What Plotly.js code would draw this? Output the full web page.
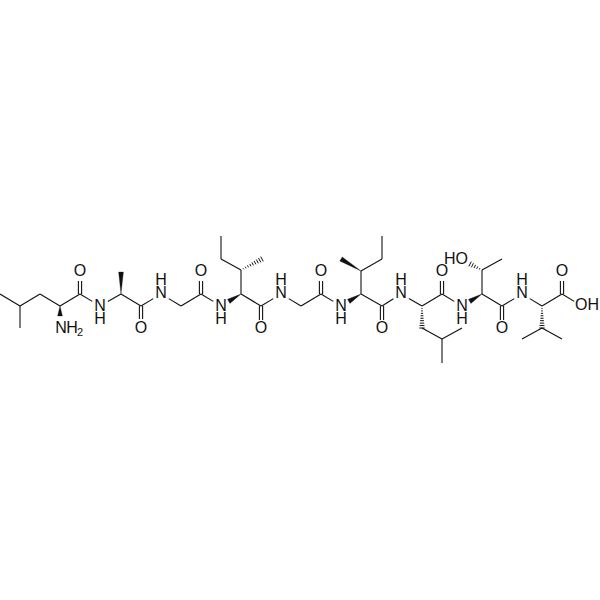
<!DOCTYPE html>
<html><head><meta charset="utf-8">
<script src="https://cdn.plot.ly/plotly-3.0.1.min.js"></script>
<style>html,body{margin:0;padding:0;background:#fff}#c{width:600px;height:600px}</style></head>
<body><div id="c"></div>
<script>
// Atom positions (pixel-like data units)
const atomX = {a1:0,a2:20,a3:20,a4:40,a5:60,n0:60,c1:80,o1:80,n1:100,b1:121,m1:121,c2:141,o2:141,n2:161,g1:181,c3:201,o3:201,
  n3:221,b2:241,s1:241,h1:262,e1:221,e2:221,c4:261,o4:261,n4:281,g2:301,c5:321,o5:321,n5:341,b3:361,s2:361,m3:341,e3:382,e4:382,
  c6:382,o6:382,n6:401,b4:422,l1:422,l2:442,l3:462,l4:442,c7:442,o7:442,n7:462,b5:482,s3:482,m5:502,oh:462,c8:502,o8:502,n8:522,
  b6:542,v1:542,v2:522,v3:562,c9:562,o9:562,oa:582};
const atomY = {a1:294,a2:306,a3:328,a4:294,a5:306,n0:325,c1:294,o1:272,n1:306,b1:294,m1:272,c2:306,o2:328,n2:294,g1:306,c3:294,o3:272,
  n3:306,b2:294,s1:270,h1:259,e1:259,e2:236,c4:306,o4:329,n4:294,g2:306,c5:294,o5:272,n5:306,b3:294,s2:271,m3:259,e3:259,e4:236,
  c6:306,o6:329,n6:294,b4:306,l1:328,l2:339,l3:328,l4:363,c7:294,o7:272,n7:306,b5:294,s3:270,m5:259,oh:260,c8:306,o8:329,n8:294,
  b6:306,v1:328,v2:339,v3:339,c9:294,o9:272,oa:306};
const singleBonds = [['a1','a2'],['a2','a3'],['a2','a4'],['a4','a5'],['a5','c1'],['c1','n1'],['n1','b1'],['b1','c2'],['c2','n2'],['n2','g1'],['g1','c3'],['c3','n3'],
  ['b2','s1'],['s1','e1'],['e1','e2'],['b2','c4'],['c4','n4'],['n4','g2'],['g2','c5'],['c5','n5'],['b3','s2'],['s2','e3'],['e3','e4'],['b3','c6'],['c6','n6'],
  ['n6','b4'],['l1','l2'],['l2','l3'],['l2','l4'],['b4','c7'],['c7','n7'],['b5','s3'],['s3','m5'],['b5','c8'],['c8','n8'],['n8','b6'],['b6','c9'],['c9','oa'],['v1','v2'],['v1','v3']];
const doubleBonds = [['c1','o1'],['c2','o2'],['c3','o3'],['c4','o4'],['c5','o5'],['c6','o6'],['c7','o7'],['c8','o8'],['c9','o9']];
const wedgeBonds = [['a5','n0'],['b1','m1'],['b2','n3'],['s2','m3'],['b3','n5'],['b5','n7']];
const hashBonds = [['s1','h1'],['b4','l1'],['s3','oh'],['b6','v1']];
const labelText = ['O','N','H','N','H','O','N','H','O','N','H','O','N','H','O','N','H','O','N','H','O','N','H','HO','O','N','H','O','OH'];
const labelX = [80,100,100,61,72,141,161,161,201,221,221,261,281,281,321,341,341,382,401,401,442,462,462,456,502,522,522,562,587];
const labelY = [272,307,319.5,329,329,329,294,281,272,307,319.5,329,294,281,272,307,319.5,329,294,281,272,307,319.5,260,329,294,281,272,306];
const subText = ['2'];
const subX = [80];
const subY = [333];
const hetero = new Set(['n1','n2','n3','n4','n5','n6','n7','n8','o1','o2','o3','o4','o5','o6','o7','o8','o9','oa','oh','n0']);
const TRIM = 9;
function ends(a,b){
  let x0=atomX[a],y0=atomY[a],x1=atomX[b],y1=atomY[b];
  const d=Math.hypot(x1-x0,y1-y0),ux=(x1-x0)/d,uy=(y1-y0)/d;
  if(hetero.has(a)){x0+=ux*TRIM;y0+=uy*TRIM;}
  if(hetero.has(b)){x1-=ux*TRIM;y1-=uy*TRIM;}
  return {x0,y0,x1,y1,ux,uy};
}
const lx=[],ly=[];
singleBonds.forEach(([a,b])=>{const e=ends(a,b);lx.push(e.x0,e.x1,null);ly.push(e.y0,e.y1,null);});
doubleBonds.forEach(([a,b])=>{const e=ends(a,b);[-1.6,1.6].forEach(o=>{lx.push(e.x0-e.uy*o,e.x1-e.uy*o,null);ly.push(e.y0+e.ux*o,e.y1+e.ux*o,null);});});
const wx=[],wy=[];
wedgeBonds.forEach(([a,b])=>{
  const e=ends(a,b);const hw=2.4;
  wx.push(e.x0,e.x1-e.uy*hw,e.x1+e.uy*hw,e.x0,null);
  wy.push(e.y0,e.y1+e.ux*hw,e.y1-e.ux*hw,e.y0,null);
});
const hx=[],hy=[];
hashBonds.forEach(([a,b])=>{
  const e=ends(a,b);const L=Math.hypot(e.x1-e.x0,e.y1-e.y0);const n=Math.round(L/2.5);
  for(let i=1;i<=n;i++){const t=i/n*L,hw=0.3+2.4*i/n;const cx=e.x0+e.ux*t,cy=e.y0+e.uy*t;
    hx.push(cx-e.uy*hw,cx+e.uy*hw,null);hy.push(cy+e.ux*hw,cy-e.ux*hw,null);}
});
const ink='#111';
const fam='"Liberation Sans",Arial,sans-serif';
const traces=[
 {type:'scatter',mode:'lines',x:lx,y:ly,line:{color:ink,width:1.1},hoverinfo:'skip'},
 {type:'scatter',mode:'lines',x:hx,y:hy,line:{color:ink,width:1},hoverinfo:'skip'},
 {type:'scatter',mode:'lines',x:wx,y:wy,fill:'toself',fillcolor:ink,line:{color:ink,width:0.3},hoverinfo:'skip'},
 {type:'scatter',mode:'text',x:labelX,y:labelY,text:labelText,textposition:'middle center',textfont:{family:fam,size:16,color:ink},hoverinfo:'skip'},
 {type:'scatter',mode:'text',x:subX,y:subY,text:subText,textposition:'middle center',textfont:{family:fam,size:11,color:ink},hoverinfo:'skip'}
];
Plotly.newPlot('c',traces,{width:600,height:600,margin:{l:0,r:0,t:0,b:0},showlegend:false,paper_bgcolor:'#fff',plot_bgcolor:'#fff',
  xaxis:{range:[0,600],visible:false,fixedrange:true},yaxis:{range:[600,0],visible:false,fixedrange:true}},{staticPlot:true,displayModeBar:false});
</script></body></html>
